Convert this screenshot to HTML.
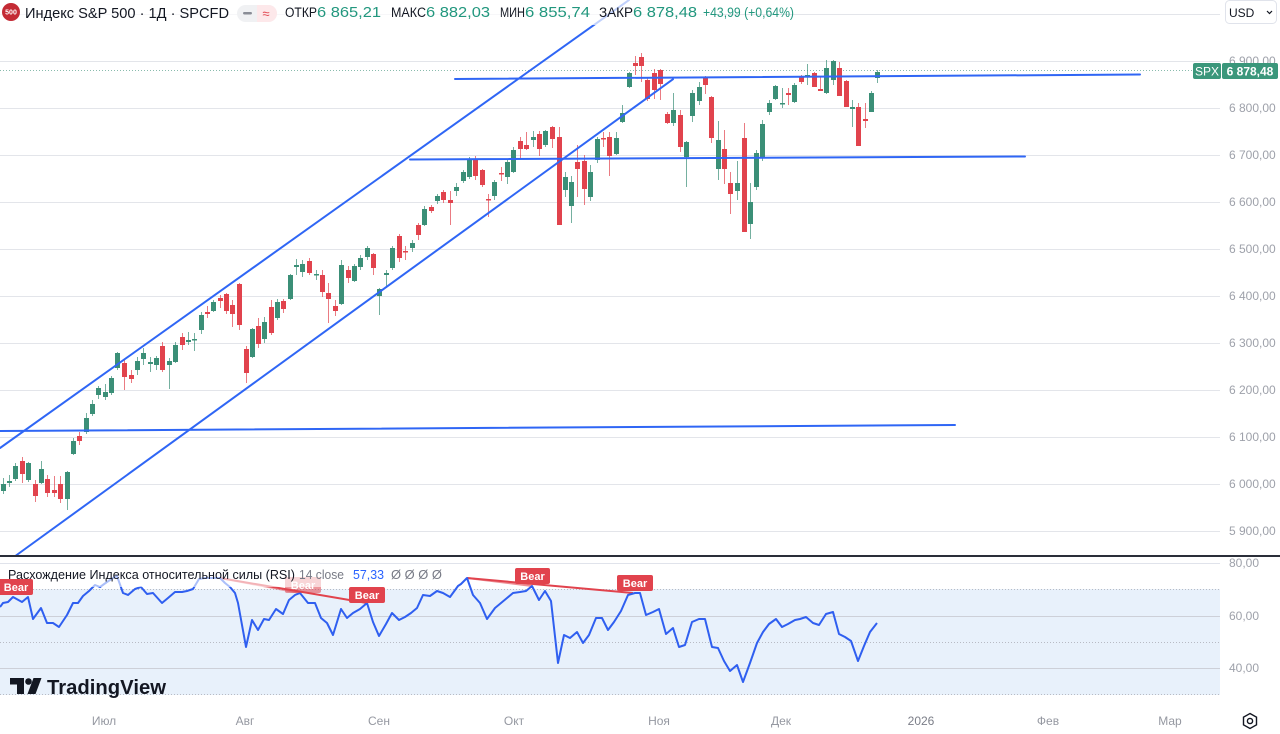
<!DOCTYPE html>
<html><head><meta charset="utf-8"><style>
html,body{margin:0;padding:0;background:#fff;}
svg{display:block;font-family:"Liberation Sans","DejaVu Sans",sans-serif;}
</style></head><body>
<svg width="1280" height="734" viewBox="0 0 1280 734" xmlns="http://www.w3.org/2000/svg">
<rect width="1280" height="734" fill="#fff"/>
<!-- price grid -->
<g stroke="#e3e5ea" stroke-width="1">
<path d="M0 14.5H1220M0 61.5H1220M0 108.5H1220M0 155.5H1220M0 202.5H1220M0 249.5H1220M0 296.5H1220M0 343.5H1220M0 390.5H1220M0 437.5H1220M0 484.5H1220M0 531.5H1220"/>
</g>
<!-- price line dotted -->
<path d="M0 70.5H1192" stroke="#3b8f77" stroke-width="1" stroke-dasharray="1 2" opacity="0.6"/>
<!-- wicks -->
<path stroke="#3b8f77" stroke-width="1" opacity="0.7" fill="none" d="M3.5 478V494M9.5 475V487M15.5 463V481M28.5 462V482M41.5 461V484M67.5 471V510M73.5 438V455M86.5 413V434M92.5 400V416M98.5 386V399M105.5 384V400M111.5 376V395M117.5 352V370M137.5 357V375M143.5 348V365M150.5 357V372M156.5 356V370M169.5 358V389M175.5 342V363M188.5 332V345M194.5 333V351M201.5 312V334M213.5 300V312M252.5 328V358M264.5 317V343M277.5 299V320M290.5 274V300M296.5 259V275M302.5 260V277M316.5 270V280M341.5 260V305M354.5 264V282M360.5 255V270M367.5 246V260M379.5 288V315M386.5 270V288M392.5 246V270M412.5 240V252M424.5 206V226M437.5 194V204M456.5 183V196M463.5 170V183M469.5 157V179M494.5 180V200M507.5 160V184M513.5 147V173M533.5 131V147M545.5 130V147M565.5 172V197M571.5 176V223M590.5 165V201M597.5 137V163M616.5 132V155M622.5 105V123M629.5 72V88M673.5 93V126M686.5 141V187M692.5 90V122M699.5 82V105M718.5 121V180M737.5 161V200M750.5 183V239M756.5 150V190M762.5 120V161M769.5 100V115M775.5 85V100M782.5 88V108M794.5 83V103M807.5 64V85M826.5 60V94M833.5 60V85M852.5 100V127M871.5 91V112M877.5 70V83"/>
<path stroke="#e1434d" stroke-width="1" opacity="0.7" fill="none" d="M22.5 457V483M35.5 480V502M47.5 475V497M54.5 476V497M60.5 476V503M79.5 432V445M124.5 360V390M131.5 370V383M162.5 342V372M182.5 333V350M207.5 306V318M220.5 295V308M226.5 293V314M232.5 300V327M239.5 283V330M246.5 346V383M258.5 318V348M271.5 300V335M283.5 299V313M309.5 258V275M322.5 270V297M328.5 283V323M335.5 300V316M348.5 266V283M373.5 253V275M399.5 234V262M405.5 246V260M418.5 223V240M431.5 205V213M443.5 190V203M450.5 191V225M475.5 156V180M482.5 169V187M488.5 194V217M501.5 167V181M520.5 137V158M526.5 132V150M539.5 131V156M552.5 126V148M559.5 127V225M577.5 145V197M584.5 155V205M603.5 132V147M609.5 132V176M635.5 56V75M641.5 53V82M647.5 78V101M654.5 69V99M660.5 69V100M667.5 112V124M680.5 110V152M705.5 76V94M711.5 96V143M724.5 130V184M730.5 172V214M744.5 123V232M788.5 88V105M801.5 75V84M814.5 72V87M820.5 77V91M839.5 62V96M846.5 80V107M858.5 103V146M865.5 103V128"/>
<!-- bodies -->
<path fill="#3b8f77" d="M1 484h5v7h-5zM7 481h5v2h-5zM13 466h5v13h-5zM26 463h5v17h-5zM39 469h5v14h-5zM65 472h5v27h-5zM71 441h5v13h-5zM84 418h5v14h-5zM90 404h5v10h-5zM96 388h5v7h-5zM103 392h5v5h-5zM109 378h5v15h-5zM115 353h5v15h-5zM135 361h5v9h-5zM141 353h5v6h-5zM148 362h5v2h-5zM154 358h5v7h-5zM167 361h5v4h-5zM173 345h5v17h-5zM186 340h5v2h-5zM192 339h5v1.5h-5zM199 315h5v15h-5zM211 302h5v9h-5zM250 329h5v28h-5zM262 322h5v17h-5zM275 302h5v16h-5zM288 275h5v24h-5zM294 265h5v2h-5zM300 264h5v8h-5zM314 274h5v1.5h-5zM339 265h5v39h-5zM352 266h5v15h-5zM358 258h5v9h-5zM365 248h5v9h-5zM377 289h5v7h-5zM384 273h5v2h-5zM390 248h5v20h-5zM410 243h5v5h-5zM422 209h5v16h-5zM435 196h5v5h-5zM454 187h5v4h-5zM461 172h5v9h-5zM467 159h5v18h-5zM492 182h5v14h-5zM505 162h5v15h-5zM511 150h5v22h-5zM531 137h5v3h-5zM543 131h5v14h-5zM563 177h5v13h-5zM569 182h5v24h-5zM588 172h5v25h-5zM595 139h5v21h-5zM614 138h5v16h-5zM620 113h5v9h-5zM627 73h5v14h-5zM671 110h5v13h-5zM684 142h5v15h-5zM690 93h5v23h-5zM697 87h5v14h-5zM716 140h5v29h-5zM735 183h5v8h-5zM748 202h5v22h-5zM754 153h5v34h-5zM760 124h5v33h-5zM767 103h5v9h-5zM773 86h5v13h-5zM780 103h5v1.5h-5zM792 85h5v17h-5zM805 75h5v2h-5zM824 68h5v25h-5zM831 61h5v19h-5zM850 107h5v2h-5zM869 93h5v19h-5zM875 72h5v6h-5z"/>
<path fill="#e1434d" d="M20 461h5v13h-5zM33 484h5v12h-5zM45 479h5v14h-5zM52 490h5v3h-5zM58 484h5v15h-5zM77 436h5v5h-5zM122 363h5v14h-5zM129 375h5v4h-5zM160 346h5v24h-5zM180 337h5v8h-5zM205 312h5v2h-5zM218 298h5v3h-5zM224 294h5v17h-5zM230 305h5v9h-5zM237 284h5v41h-5zM244 349h5v24h-5zM256 326h5v18h-5zM269 307h5v26h-5zM281 301h5v8h-5zM307 261h5v12h-5zM320 275h5v17h-5zM326 293h5v6h-5zM333 306h5v5h-5zM346 270h5v8h-5zM371 254h5v14h-5zM397 236h5v22h-5zM403 251h5v1.5h-5zM416 225h5v10h-5zM429 207h5v4h-5zM441 192h5v8h-5zM448 200h5v3h-5zM473 159h5v17h-5zM480 170h5v15h-5zM486 199h5v1.5h-5zM499 173h5v1.5h-5zM518 141h5v8h-5zM524 145h5v4h-5zM537 134h5v15h-5zM550 127h5v12h-5zM557 137h5v88h-5zM575 162h5v7h-5zM582 161h5v28h-5zM601 138h5v1.5h-5zM607 137h5v19h-5zM633 63h5v3h-5zM639 57h5v9h-5zM645 80h5v19h-5zM652 73h5v17h-5zM658 70h5v14h-5zM665 114h5v9h-5zM678 115h5v32h-5zM703 77h5v8h-5zM709 97h5v41h-5zM722 149h5v20h-5zM728 183h5v11h-5zM742 138h5v94h-5zM786 93h5v2h-5zM799 77h5v5h-5zM812 73h5v14h-5zM818 89h5v2h-5zM837 68h5v28h-5zM844 81h5v26h-5zM856 107h5v39h-5zM863 119h5v2h-5z"/>
<!-- drawings -->
<g stroke="#2f66f5" stroke-width="2" fill="none" stroke-linecap="round">
<line x1="0" y1="448" x2="629" y2="0"/>
<line x1="15.3" y1="556" x2="673" y2="79.2"/>
<line x1="455" y1="79" x2="1140" y2="74.5"/>
<line x1="410" y1="159.5" x2="1025" y2="156.5"/>
<line x1="0" y1="431" x2="955" y2="425"/>
</g>
<!-- header background -->
<rect x="0" y="0" width="712" height="25" fill="#fff" opacity="0.7"/>
<!-- header -->
<circle cx="11" cy="12" r="9" fill="#c42b35"/>
<text x="11" y="14.5" font-size="7" font-weight="bold" fill="#fff" text-anchor="middle">500</text>
<text x="25" y="18" font-size="15" fill="#131722" textLength="204" lengthAdjust="spacingAndGlyphs">Индекс S&amp;P 500 · 1Д · SPCFD</text>
<rect x="237" y="5" width="40" height="17" rx="8.5" fill="#f0f1f3"/>
<path d="M257 5h11.5a8.5 8.5 0 0 1 0 17H257z" fill="#fde8ea"/>
<rect x="243" y="12" width="9" height="2.5" rx="1.2" fill="#8a8d96"/>
<text x="266" y="18" font-size="13" fill="#e1434d" text-anchor="middle">≈</text>
<g font-size="13.5">
<text x="285" y="17" fill="#131722" textLength="32" lengthAdjust="spacingAndGlyphs">ОТКР</text>
<text x="317" y="17" fill="#22977e" font-size="14.5" textLength="64" lengthAdjust="spacingAndGlyphs">6 865,21</text>
<text x="391" y="17" fill="#131722" textLength="35" lengthAdjust="spacingAndGlyphs">МАКС</text>
<text x="426" y="17" fill="#22977e" font-size="14.5" textLength="64" lengthAdjust="spacingAndGlyphs">6 882,03</text>
<text x="500" y="17" fill="#131722" textLength="25" lengthAdjust="spacingAndGlyphs">МИН</text>
<text x="525" y="17" fill="#22977e" font-size="14.5" textLength="65" lengthAdjust="spacingAndGlyphs">6 855,74</text>
<text x="599" y="17" fill="#131722" textLength="34" lengthAdjust="spacingAndGlyphs">ЗАКР</text>
<text x="633" y="17" fill="#22977e" font-size="14.5" textLength="64" lengthAdjust="spacingAndGlyphs">6 878,48</text>
<text x="703" y="17" fill="#22977e" textLength="91" lengthAdjust="spacingAndGlyphs">+43,99 (+0,64%)</text>
</g>
<!-- USD button -->
<rect x="1225.5" y="0.5" width="51" height="23" rx="4" fill="#fff" stroke="#e0e3eb"/>
<text x="1229" y="17" font-size="12" fill="#131722">USD</text>
<path d="M1267 11l2.5 2.5 2.5-2.5" stroke="#131722" stroke-width="1.2" fill="none"/>
<!-- price axis labels -->
<g font-size="12" fill="#9ea1aa">
<text x="1229" y="65">6 900,00</text>
<text x="1229" y="112">6 800,00</text>
<text x="1229" y="159">6 700,00</text>
<text x="1229" y="206">6 600,00</text>
<text x="1229" y="253">6 500,00</text>
<text x="1229" y="300">6 400,00</text>
<text x="1229" y="347">6 300,00</text>
<text x="1229" y="394">6 200,00</text>
<text x="1229" y="441">6 100,00</text>
<text x="1229" y="488">6 000,00</text>
<text x="1229" y="535">5 900,00</text>
</g>
<!-- price label -->
<rect x="1193" y="63" width="28" height="16" rx="2" fill="#3b977b"/>
<text x="1207" y="75.5" font-size="12" fill="#fff" text-anchor="middle">SPX</text>
<rect x="1222" y="63" width="56" height="16" rx="2" fill="#3b977b"/>
<text x="1250" y="75.5" font-size="12" font-weight="bold" fill="#fff" text-anchor="middle">6 878,48</text>
<!-- pane separator -->
<rect x="0" y="555" width="1280" height="2" fill="#2a2e39"/>
<!-- RSI pane -->
<rect x="0" y="589" width="1220" height="106" fill="#e8f1fb"/>
<path d="M0 563.5H1220" stroke="#e0e3eb"/>
<path d="M0 616.5H1220M0 668.5H1220" stroke="#cdd0d8"/>
<path d="M0 589.5H1220M0 642.5H1220M0 694.5H1220" stroke="#b8bbc4" stroke-dasharray="1 2"/>
<g font-size="12" fill="#9ea1aa">
<text x="1229" y="567">80,00</text>
<text x="1229" y="620">60,00</text>
<text x="1229" y="672">40,00</text>
</g>
<!-- divergence lines -->
<g stroke="#e1434d" stroke-width="2" fill="none">
<line x1="220" y1="578" x2="300" y2="593" opacity="0.5"/>
<line x1="220" y1="578" x2="367" y2="603"/>
<line x1="467" y1="578" x2="532" y2="586" opacity="0.6"/>
<line x1="467" y1="578" x2="633" y2="593"/>
</g>
<!-- RSI line -->
<polyline fill="none" stroke="#2f5ff0" stroke-width="2" stroke-linejoin="round" points="0,607 3,603 8,602 13,597 22,602 28,597 33,619 41,608 47,623 53,623 59,627 67,615 73,603 78,603 83,596 89,591 95,585 100,587 107,582 113,578 117,576 123,593 128,595 135,589 141,587 147,594 153,593 162,603 168,598 175,592 182,592 187,591 193,589 199,579 205,578 212,578 220,578 225,583 230,587 235,593 238,603 246,647 252,620 258,630 264,619 269,620 276,609 283,614 289,600 295,595 300,593 308,603 315,603 321,618 327,623 333,635 341,609 347,618 353,613 360,609 367,603 373,622 379,636 386,624 392,613 399,620 405,617 411,613 417,608 423,595 430,596 437,591 443,593 450,597 458,586 461,584 467,578 473,595 480,603 487,619 495,608 501,603 507,598 513,593 520,592 526,591 532,586 539,600 545,591 551,601 558,663 564,635 570,638 577,632 583,643 589,635 596,618 602,618 608,630 614,622 621,611 628,595 635,593 640,593 646,615 653,612 659,609 666,634 673,628 679,647 685,645 692,622 699,619 705,619 712,647 718,648 724,661 730,671 737,665 743,682 750,663 757,643 763,632 769,624 776,619 782,627 788,624 795,620 800,619 806,617 813,623 819,625 826,614 833,612 839,634 845,637 851,641 858,661 864,646 870,632 877,623"/>
<!-- Bear label 2 (faded) -->
<g opacity="0.55">
<rect x="285" y="577" width="36" height="16" rx="2" fill="#e1434d"/>
<text x="303" y="589" font-size="11" font-weight="bold" fill="#fff" text-anchor="middle">Bear</text>
</g>
<!-- legend bg -->
<rect x="4" y="566" width="444" height="21" fill="#fff" opacity="0.6"/>
<g font-size="13">
<text x="8" y="579" fill="#131722" textLength="287" lengthAdjust="spacingAndGlyphs">Расхождение Индекса относительной силы (RSI)</text>
<text x="299" y="579" fill="#787b86" textLength="45" lengthAdjust="spacingAndGlyphs">14 close</text>
<text x="353" y="579" fill="#2962ff" textLength="31" lengthAdjust="spacingAndGlyphs">57,33</text>
<text x="391" y="579" fill="#787b86" textLength="51" lengthAdjust="spacingAndGlyphs">Ø Ø Ø Ø</text>
</g>
<!-- Bear labels -->
<g font-size="11" font-weight="bold" fill="#fff" text-anchor="middle">
<rect x="-2" y="579" width="35" height="16" rx="2" fill="#e1434d"/>
<text x="16" y="591">Bear</text>
<rect x="349" y="587" width="36" height="16" rx="2" fill="#e1434d"/>
<text x="367" y="599">Bear</text>
<rect x="515" y="568" width="35" height="16" rx="2" fill="#e1434d"/>
<text x="532.5" y="580">Bear</text>
<rect x="617" y="575" width="36" height="16" rx="2" fill="#e1434d"/>
<text x="635" y="587">Bear</text>
</g>
<!-- TradingView logo -->
<path d="M10 678H24V694H17V684.5H10Z" fill="#131722"/>
<circle cx="28.5" cy="681.5" r="3.3" fill="#131722"/>
<path d="M33.5 678H41.5L35.5 694H27.5Z" fill="#131722"/>
<text x="47" y="694" font-size="20" font-weight="bold" fill="#131722" textLength="119" lengthAdjust="spacingAndGlyphs">TradingView</text>
<!-- time axis -->
<g font-size="12" fill="#9598a1" text-anchor="middle">
<text x="104" y="725">Июл</text>
<text x="245" y="725">Авг</text>
<text x="379" y="725">Сен</text>
<text x="514" y="725">Окт</text>
<text x="659" y="725">Ноя</text>
<text x="781" y="725">Дек</text>
<text x="921" y="725" fill="#7b7e88">2026</text>
<text x="1048" y="725">Фев</text>
<text x="1170" y="725">Мар</text>
</g>
<!-- settings icon -->
<polygon points="1250,713.5 1256.5,717.2 1256.5,724.8 1250,728.5 1243.5,724.8 1243.5,717.2" fill="none" stroke="#131722" stroke-width="1.4"/>
<circle cx="1250" cy="721" r="2.6" fill="none" stroke="#131722" stroke-width="1.4"/>
</svg>
</body></html>
